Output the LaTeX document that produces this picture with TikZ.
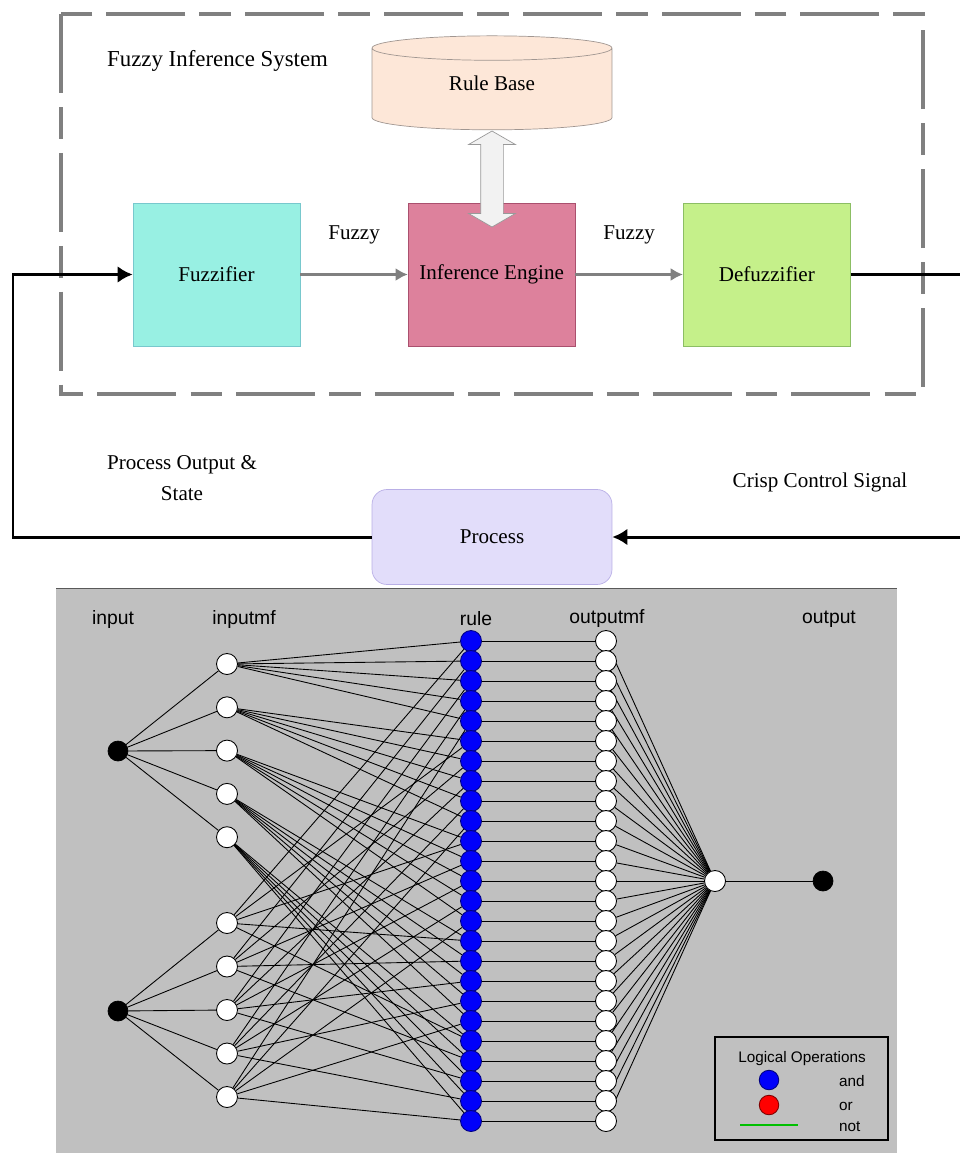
\documentclass[tikz,border=0pt]{standalone}
\usepackage{fontspec}
\setmainfont{Liberation Serif}
\setsansfont{Liberation Sans}
\usepackage{tikz}
\usetikzlibrary{shapes, arrows, arrows.meta, positioning, backgrounds}

\definecolor{fuzzcol}{RGB}{152,240,227}
\definecolor{fuzzline}{RGB}{120,200,205}
\definecolor{enginecol}{RGB}{221,129,156}
\definecolor{engineline}{RGB}{170,80,110}
\definecolor{defuzzcol}{RGB}{197,240,138}
\definecolor{defuzzline}{RGB}{140,190,100}
\definecolor{rbcol}{RGB}{253,231,216}
\definecolor{rbline}{RGB}{160,150,145}
\definecolor{proccol}{RGB}{226,221,250}
\definecolor{procline}{RGB}{185,175,230}
\definecolor{panelcol}{RGB}{192,192,192}
\definecolor{rulecol}{RGB}{0,0,250}

\tikzset{
  block/.style={rectangle, draw, minimum width=3.34cm, minimum height=2.86cm, font=\fontsize{12}{14}\selectfont},
  rulebase/.style={cylinder, shape border rotate=90, aspect=0.25, draw=rbline, fill=rbcol, minimum width=4.8cm, minimum height=1.88cm, font=\fontsize{12}{14}\selectfont},
  dblarrow/.style={double arrow, shape border rotate=90, draw=gray!80, fill=gray!10, minimum height=1.92cm, minimum width=0.92cm, double arrow head extend=0.24cm, double arrow tip angle=120, inner sep=0.22cm},
  procbox/.style={rectangle, rounded corners=0.3cm, draw=procline, fill=proccol, minimum width=4.8cm, minimum height=1.9cm, font=\fontsize{12}{14}\selectfont},
  sysbox/.style={draw=gray, line width=2.2pt, dash pattern=on 45pt off 8pt on 18pt off 8pt},
  sigline/.style={draw, line width=1.7pt, -{Latex[length=8.5pt, width=9.5pt]}},
  fuzzyline/.style={draw=gray, line width=2pt, -{Latex[length=7pt, width=7.5pt]}},
  caption/.style={font=\fontsize{12}{18}\selectfont, align=center},
  netline/.style={draw, line width=0.5pt},
  innode/.style={circle, fill=black, draw=black, minimum size=0.4cm, inner sep=0pt},
  mfnode/.style={circle, fill=white, draw=black, line width=0.5pt, minimum size=0.42cm, inner sep=0pt},
  rulenode/.style={circle, fill=rulecol, draw=blue!50!black, line width=0.5pt, minimum size=0.42cm, inner sep=0pt},
  ornode/.style={circle, fill=red, draw=red!50!black, line width=0.5pt, minimum size=0.4cm, inner sep=0pt},
  netlabel/.style={font=\sffamily\fontsize{11}{13}\selectfont},
  legendtext/.style={font=\sffamily\fontsize{8.7}{10}\selectfont}
}

\begin{document}
\begin{tikzpicture}[x=0.02cm, y=-0.02cm, node distance=2.15cm, auto]
        \useasboundingbox (0,0) rectangle (960,1153);

        % Fuzzy inference system
        \draw [sysbox] (61,14) rectangle (923,394);
        \node [anchor=west, font=\fontsize{13}{15}\selectfont] (fistitle) at (101,61) {Fuzzy Inference System};
        \node [rulebase] (rulebase) at (492,91) {\raisebox{4.5pt}[\height][\depth]{Rule Base}};
        \node [block, fill=fuzzcol, draw=fuzzline] (fuzzifier) at (216.5,274.5) {Fuzzifier};
        \node [block, fill=enginecol, draw=engineline, right=of fuzzifier] (engine) {Inference Engine};
        \node [block, fill=defuzzcol, draw=defuzzline, right=of engine] (defuzzifier) {Defuzzifier};
        \node [dblarrow] (link) at (492,179) {};
        \node [procbox] (process) at (492,537) {Process};

        % Arrows
        \path [fuzzyline] (fuzzifier) -- node [above=0.45cm, font=\fontsize{12}{14}\selectfont] (fuzzya) {Fuzzy} (engine);
        \path [fuzzyline] (engine) -- node [above=0.45cm, font=\fontsize{12}{14}\selectfont] (fuzzyb) {Fuzzy} (defuzzifier);
        \coordinate (loopleft) at (13,537);
        \coordinate (loopright) at (966,537);
        \path [sigline] (process.west) -- (loopleft) |- (fuzzifier.west);
        \path [sigline] (defuzzifier.east) -| (loopright) -- (process.east);
        \node [caption] (feedback) at (182,478) {Process Output \&\\State};
        \node [caption] (control) at (820,482) {Crisp Control Signal};

        % Network nodes
        \node [innode] (in1) at (118,751) {};
        \node [innode] (in2) at (118,1011) {};
        \foreach \j in {1,...,5} {
            \node [mfnode] (imfa\j) at (227,{664+(\j-1)*43.3}) {};
            \node [mfnode] (imfb\j) at (227,{923+(\j-1)*43.5}) {};
        }
        \foreach \r in {1,...,25} {
            \node [rulenode] (rule\r) at (471,{641+(\r-1)*20}) {};
            \node [mfnode] (omf\r) at (606,{641+(\r-1)*20}) {};
        }
        \node [mfnode] (agg) at (715,881) {};
        \node [innode] (out) at (823,881) {};

        % Network labels
        \node [netlabel] (inputlbl) at (113,619) {input};
        \node [netlabel] (inputmflbl) at (244,619) {inputmf};
        \node [netlabel] (rulelbl) at (476,619) {rule};
        \node [netlabel] (outputmflbl) at (607,619) {outputmf};
        \node [netlabel] (outputlbl) at (829,619) {output};

        % Legend
        \draw [line width=0.8pt] (715,1037) rectangle (888,1140);
        \node [legendtext] (logops) at (802,1059) {Logical Operations};
        \node [rulenode, minimum size=0.39cm] (andkey) at (769,1080) {};
        \node [legendtext, anchor=west] (andlbl) at (833,1081) {and};
        \node [ornode, minimum size=0.39cm] (orkey) at (769,1105) {};
        \node [legendtext, anchor=west] (orlbl) at (833,1106) {or};
        \draw [green!75!black, line width=0.8pt] (740,1125) -- (798,1125);
        \node [legendtext, anchor=west] (notlbl) at (833,1127) {not};

        % Network connections
        \begin{scope}[on background layer]
            \fill [panelcol] (56,588) rectangle (897,1153);
            \draw [gray!70!black, line width=0.8pt] (56,588.5) -- (897,588.5);
            \foreach \i in {1,...,5} {
                \draw [netline] (in1) -- (imfa\i);
                \draw [netline] (in2) -- (imfb\i);
                \foreach \j in {1,...,5} {
                    \pgfmathtruncatemacro\r{(\i-1)*5+\j}
                    \draw [netline] (imfa\i) -- (rule\r);
                    \draw [netline] (imfb\j) -- (rule\r);
                }
            }
            \foreach \r in {1,...,25} {
                \draw [netline] (rule\r) -- (omf\r);
                \draw [netline] (omf\r) -- (agg);
            }
            \draw [netline] (agg) -- (out);
        \end{scope}
    \end{tikzpicture}
\end{document}
